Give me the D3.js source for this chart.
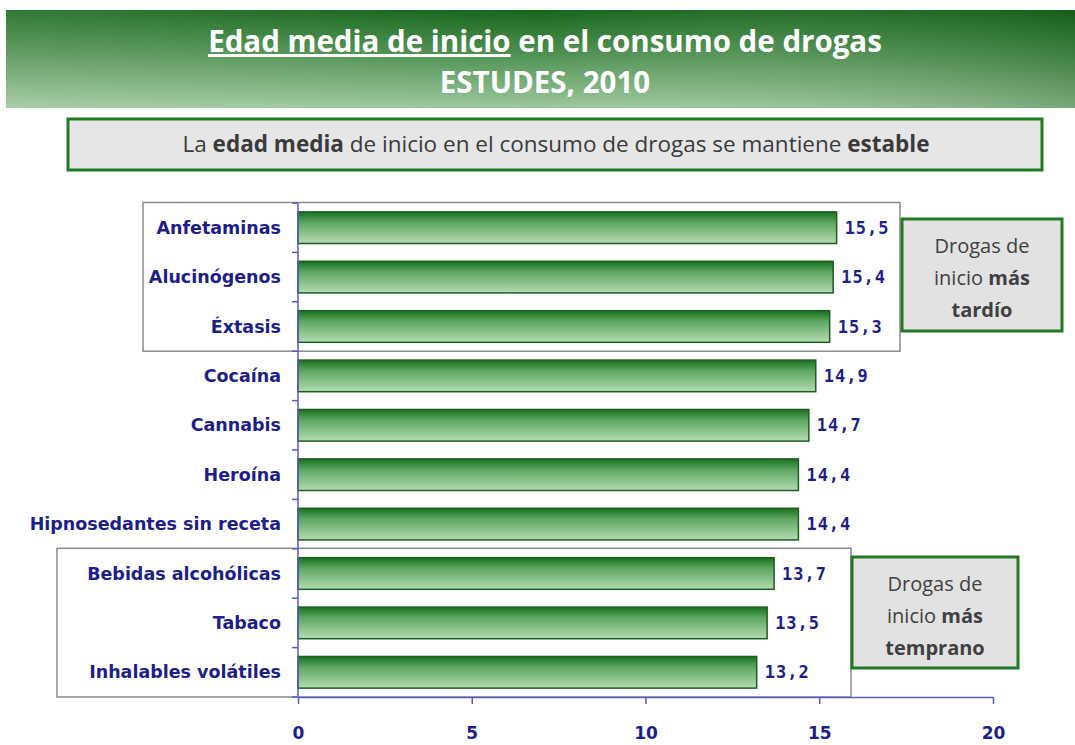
<!DOCTYPE html>
<html><head><meta charset="utf-8">
<script src="https://cdn.jsdelivr.net/npm/d3@7"></script>
<style>
html,body{margin:0;padding:0;background:#fff;}
svg{display:block;}
</style></head>
<body>
<svg id="chart" width="1075" height="745"></svg>
<script>
const categories = ["Anfetaminas","Alucinógenos","Éxtasis","Cocaína","Cannabis","Heroína","Hipnosedantes sin receta","Bebidas alcohólicas","Tabaco","Inhalables volátiles"];
const values = [15.5,15.4,15.3,14.9,14.7,14.4,14.4,13.7,13.5,13.2];
const xTicks = [0,5,10,15,20];
const lateGroup = ["Anfetaminas","Alucinógenos","Éxtasis"];
const earlyGroup = ["Bebidas alcohólicas","Tabaco","Inhalables volátiles"];

const svg = d3.select("#chart");
const defs = svg.append("defs");

// banner gradient
const bg = defs.append("linearGradient").attr("id","banner").attr("x1",0).attr("y1",0).attr("x2",0).attr("y2",1);
bg.append("stop").attr("offset","0%").attr("stop-color","#16661a");
bg.append("stop").attr("offset","45%").attr("stop-color","#4f9152");
bg.append("stop").attr("offset","100%").attr("stop-color","#9cc79c");
const bgh = defs.append("linearGradient").attr("id","bannerH").attr("x1",0).attr("y1",0).attr("x2",1).attr("y2",0);
bgh.append("stop").attr("offset","0%").attr("stop-color","#ffffff").attr("stop-opacity",0.12);
bgh.append("stop").attr("offset","50%").attr("stop-color","#ffffff").attr("stop-opacity",0);
bgh.append("stop").attr("offset","100%").attr("stop-color","#0b4a0e").attr("stop-opacity",0.25);

const barG = defs.append("linearGradient").attr("id","barg").attr("x1",0).attr("y1",0).attr("x2",0).attr("y2",1);
barG.append("stop").attr("offset","0%").attr("stop-color","#17701c");
barG.append("stop").attr("offset","35%").attr("stop-color","#5fa862");
barG.append("stop").attr("offset","100%").attr("stop-color","#b4dcb2");

// Banner
svg.append("rect").attr("x",6).attr("y",10).attr("width",1069).attr("height",98).attr("fill","url(#banner)");
svg.append("rect").attr("x",6).attr("y",10).attr("width",1069).attr("height",98).attr("fill","url(#bannerH)");
const titleFont = "'Open Sans',sans-serif";
const t1 = svg.append("text").attr("x",545).attr("y",52).attr("text-anchor","middle")
  .attr("font-family",titleFont).attr("font-weight","bold").attr("font-size",29.5).attr("fill","#fff");
t1.append("tspan").attr("text-decoration","underline").text("Edad media de inicio");
t1.append("tspan").text(" en el consumo de drogas");
svg.append("text").attr("x",545).attr("y",93).attr("text-anchor","middle")
  .attr("font-family",titleFont).attr("font-weight","bold").attr("font-size",29.5).attr("fill","#fff").text("ESTUDES, 2010");

// Subtitle box
svg.append("rect").attr("x",68).attr("y",119).attr("width",974).attr("height",51)
  .attr("fill","#e6e6e6").attr("stroke","#1f7a22").attr("stroke-width",3);
const st = svg.append("text").attr("x",556).attr("y",152).attr("text-anchor","middle")
  .attr("font-family",titleFont).attr("font-size",22.5).attr("fill","#3a3a3a");
st.append("tspan").text("La ");
st.append("tspan").attr("font-weight","bold").text("edad media");
st.append("tspan").text(" de inicio en el consumo de drogas se mantiene ");
st.append("tspan").attr("font-weight","bold").text("estable");

// Scales
const x = d3.scaleLinear().domain([0,20]).range([298,993]);
const y = d3.scaleBand().domain(categories).range([203,697]).paddingInner(0.36).paddingOuter(0.18);
const step = y.step();

// group boxes (white with grey border)
function groupBox(group, x0, x1){
  const top = y(group[0]) - y.paddingOuter()*step - 0.5;
  const last = group[group.length-1];
  const bot = y(last) + y.bandwidth() + (step - y.bandwidth())/2 + 0;
  svg.append("rect").attr("x",x0).attr("y",top).attr("width",x1-x0).attr("height",bot-top)
    .attr("fill","#fff").attr("stroke","#8a8a8a").attr("stroke-width",1.5);
}
groupBox(lateGroup, 143, 900);
groupBox(earlyGroup, 57, 851);

// bars
svg.append("g").selectAll("rect").data(categories).join("rect")
  .attr("x",x(0)).attr("y",d=>y(d)).attr("width",(d,i)=>x(values[i])-x(0)).attr("height",y.bandwidth())
  .attr("fill","url(#barg)").attr("stroke","#1b5e1f").attr("stroke-width",1.5);

// value labels
svg.append("g").selectAll("text").data(categories).join("text")
  .attr("x",(d,i)=>x(values[i])+8).attr("y",d=>y(d)+y.bandwidth()/2+6)
  .attr("font-family","'DejaVu Sans Mono',monospace").attr("font-weight","bold").attr("font-size",17)
  .attr("letter-spacing",1).attr("fill","#1e1e8a")
  .text((d,i)=>d3.format(".1f")(values[i]).replace(".",","));

// y axis
const axisColor = "#5a5ac8";
const yAxisG = svg.append("g");
yAxisG.append("line").attr("x1",x(0)).attr("x2",x(0)).attr("y1",203).attr("y2",697).attr("stroke",axisColor).attr("stroke-width",1.5);
const bounds = d3.range(categories.length+1).map(i=>203+i*step);
yAxisG.selectAll("line.t").data(bounds).join("line").attr("class","t")
  .attr("x1",x(0)-6).attr("x2",x(0)).attr("y1",d=>d).attr("y2",d=>d).attr("stroke",axisColor).attr("stroke-width",1.5);
yAxisG.selectAll("text").data(categories).join("text")
  .attr("x",281).attr("y",d=>y(d)+y.bandwidth()/2+6).attr("text-anchor","end")
  .attr("font-family","'DejaVu Sans',sans-serif").attr("font-weight","bold").attr("font-size",17.5)
  .attr("fill","#1e1e8a").text(d=>d);

// x axis
const xAxis = d3.axisBottom(x).tickValues(xTicks).tickSize(7).tickSizeOuter(0).tickFormat(d3.format("d"));
const xg = svg.append("g").attr("transform","translate(0,697)").call(xAxis);
xg.select(".domain").attr("stroke",axisColor).attr("stroke-width",1.5);
xg.selectAll(".tick line").attr("stroke",axisColor).attr("stroke-width",1.5);
xg.selectAll(".tick text").attr("dy",0).attr("y",42)
  .attr("font-family","'DejaVu Sans',sans-serif").attr("font-weight","bold").attr("font-size",17).attr("fill","#1e1e8a");

// callouts
function callout(x0,y0,w,h,lines){
  svg.append("rect").attr("x",x0).attr("y",y0).attr("width",w).attr("height",h)
    .attr("fill","#e2e2e2").attr("stroke","#1f7a22").attr("stroke-width",3);
  lines.forEach((parts,i)=>{
    const t = svg.append("text").attr("x",x0+w/2).attr("y",y0+34+i*32).attr("text-anchor","middle")
      .attr("font-family","'Open Sans',sans-serif").attr("font-size",20).attr("fill","#404040");
    parts.forEach(p=>t.append("tspan").attr("font-weight",p.b?"bold":"normal").text(p.t));
  });
}
callout(902,219,160,112,[[{t:"Drogas de"}],[{t:"inicio "},{t:"más",b:true}],[{t:"tardío",b:true}]]);
callout(852,557,166,111,[[{t:"Drogas de"}],[{t:"inicio "},{t:"más",b:true}],[{t:"temprano",b:true}]]);
</script>
</body></html>
